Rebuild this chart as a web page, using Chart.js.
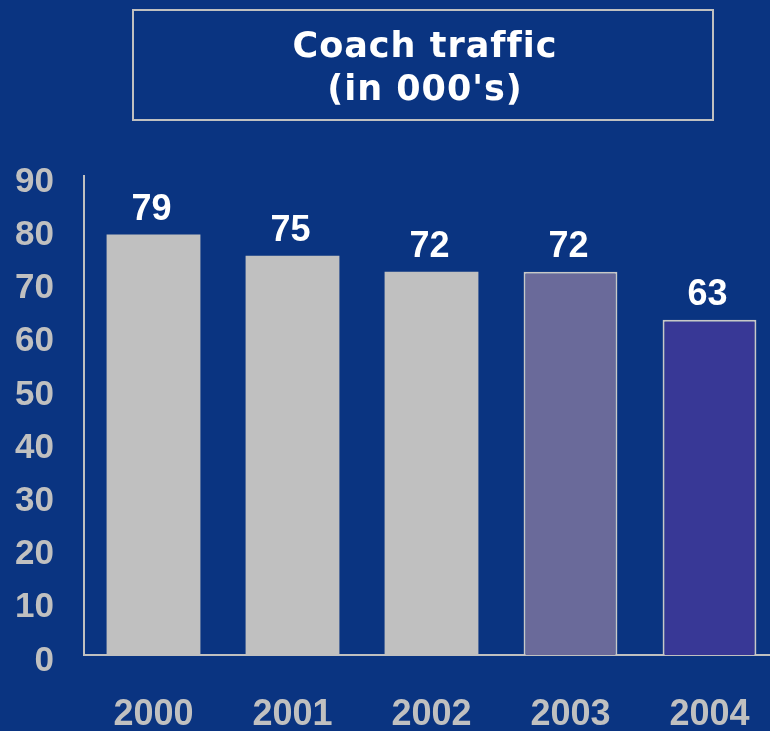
<!DOCTYPE html>
<html>
<head>
<meta charset="utf-8">
<script src="https://cdn.jsdelivr.net/npm/chart.js@4/dist/chart.umd.min.js"></script>
<style>
  html, body { margin: 0; padding: 0; background: #0a3481; overflow: hidden; }
  #wrap { width: 790px; height: 731px; }
</style>
</head>
<body>
<div id="wrap"><canvas id="c" width="790" height="731"></canvas></div>
<script>
const titleLines = ['Coach traffic', "(in 000's)"];
const categories = ['2000', '2001', '2002', '2003', '2004'];
const traffic = [79, 75, 72, 72, 63];
const barColors = ['#c0c0c0', '#c0c0c0', '#c0c0c0', '#6a6a9a', '#383896'];
const barBorders = ['#c0c0c0', '#c0c0c0', '#c0c0c0', '#c8c8c8', '#c8c8c8'];
const borderWidths = [0, 0, 0, 2, 2];

const titleBox = {
  id: 'titleBox',
  afterDraw(chart) {
    const ctx = chart.ctx;
    ctx.save();
    ctx.strokeStyle = '#c0c0c0';
    ctx.lineWidth = 2;
    ctx.strokeRect(133, 10, 580, 110);
    ctx.fillStyle = '#ffffff';
    ctx.font = 'bold 35px "DejaVu Sans"';
    try { ctx.letterSpacing = '1px'; } catch (e) {}
    try { ctx.textRendering = 'optimizeSpeed'; } catch (e) {}
    ctx.textAlign = 'center';
    ctx.textBaseline = 'alphabetic';
    ctx.fillText(titleLines[0], 425, 57);
    ctx.fillText(titleLines[1], 425, 100);
    ctx.restore();
  }
};

const valueLabels = {
  id: 'valueLabels',
  afterDatasetsDraw(chart) {
    const ctx = chart.ctx;
    const meta = chart.getDatasetMeta(0);
    ctx.save();
    ctx.fillStyle = '#ffffff';
    ctx.font = 'bold 36px "Liberation Sans", Arial, sans-serif';
    ctx.textAlign = 'center';
    ctx.textBaseline = 'alphabetic';
    meta.data.forEach((bar, i) => {
      ctx.fillText(String(traffic[i]), bar.x - 2, bar.y - 15);
    });
    ctx.restore();
  }
};

new Chart(document.getElementById('c'), {
  type: 'bar',
  data: {
    labels: categories,
    datasets: [{
      data: traffic,
      backgroundColor: barColors,
      borderColor: barBorders,
      borderWidth: borderWidths,
      barPercentage: 0.675,
      categoryPercentage: 1.0
    }]
  },
  options: {
    responsive: false,
    animation: false,
    devicePixelRatio: 1,
    layout: { padding: { top: 176, right: 11, left: 0, bottom: 0 } },
    plugins: {
      legend: { display: false },
      tooltip: { enabled: false },
      title: { display: false }
    },
    scales: {
      x: {
        offset: true,
        grid: { display: false, drawTicks: false },
        border: { display: true, color: '#c0c0c0', width: 2 },
        afterFit(scale) { scale.height = 76; },
        ticks: {
          color: '#c0c0c0',
          font: { family: '"Liberation Sans", Arial, sans-serif', size: 36, weight: 'bold' },
          padding: 38,
          maxRotation: 0,
          autoSkip: false
        }
      },
      y: {
        min: 0,
        max: 90,
        grid: { display: false, drawTicks: false },
        border: { display: true, color: '#c0c0c0', width: 2 },
        afterFit(scale) { scale.width = 84; },
        ticks: {
          stepSize: 10,
          color: '#c0c0c0',
          font: { family: '"Liberation Sans", Arial, sans-serif', size: 35, weight: 'bold' },
          padding: 30,
          labelOffset: 6
        }
      }
    }
  },
  plugins: [titleBox, valueLabels]
});
</script>
</body>
</html>
